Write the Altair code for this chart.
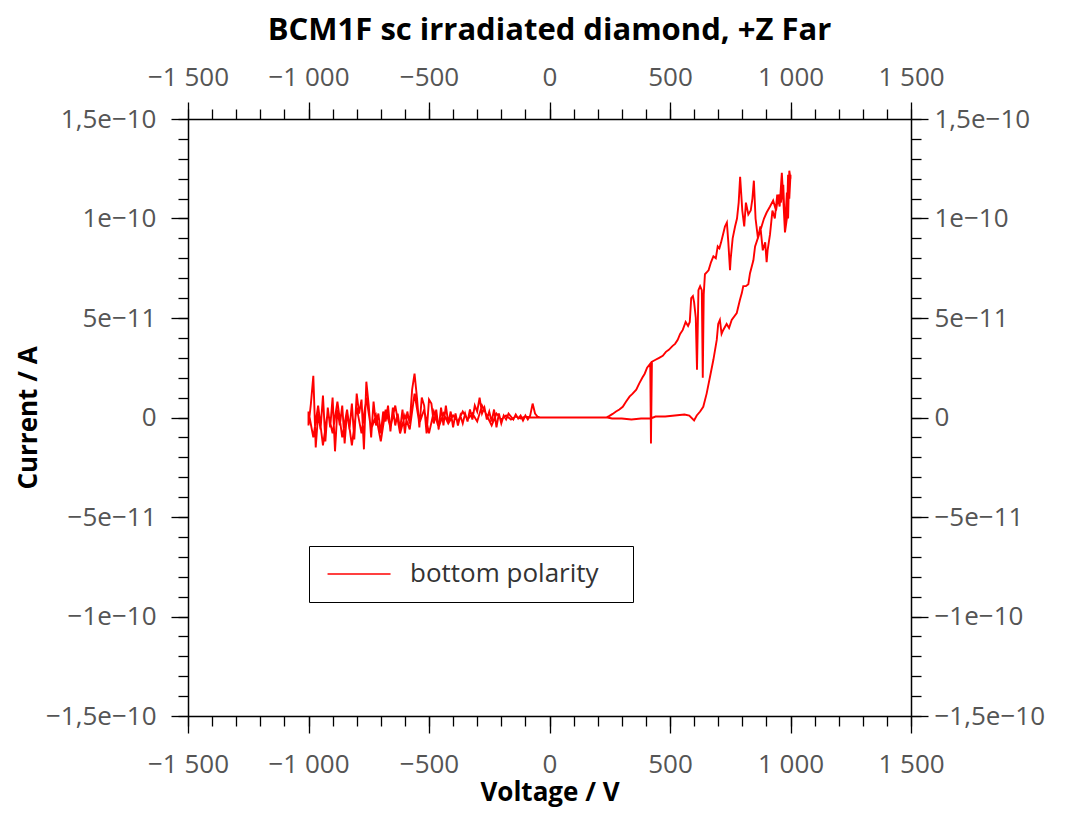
import altair as alt
import pandas as pd

# ---- data (current in pA, voltage in V) ----
# upward sweep, 0 -> +1000 V (lower branch)
up_v = [0, 50, 100, 150, 200, 240, 260, 300, 340, 380, 420, 440, 480, 520, 560, 580, 600,
        611, 625, 638, 652, 666, 680, 694, 700, 707, 714, 721, 735, 745, 756, 777, 790, 798,
        804, 815, 825, 832, 846, 853, 867, 880, 890, 901, 915, 928, 940, 950, 960, 970, 977,
        985, 990, 995, 1000]
up_i = [0, 0, 0, 0, 0, 0, -0.5, -0.5, -1, -0.5, -0.5, 0.5, 0.5, 1, 1.5, 1, -1.5,
        1, 3, 5.4, 12, 20.5, 29, 39, 47, 49, 42, 44, 47, 45, 49, 52.5, 59, 62.5,
        66, 66, 67, 72.5, 79, 86, 91, 96, 100, 103, 106, 109, 104, 112, 108, 117, 95,
        113, 100, 124, 120]

# downward sweep, +1000 V -> 0 (upper branch)
down_v = [1000, 995, 990, 985, 977, 970, 964, 955, 945, 935, 925, 915, 905, 901, 895, 885,
          875, 865, 855, 848, 842, 835, 825, 815, 808, 800, 791, 785, 778, 770, 760, 752,
          749, 742, 736, 728, 720, 712, 705, 698, 690, 680, 670, 660, 653, 645, 640, 636,
          632, 625, 618, 612, 607, 600, 595, 588, 582, 575, 565, 553, 542, 532, 521, 511,
          495, 483, 470, 455, 440, 425, 421, 418, 405, 395, 385, 372, 360, 345, 332, 318,
          304, 290, 276, 262, 249, 235, 200, 150, 100, 50, 0, -40]
down_i = [122, 110, 122, 100, 93, 110, 123, 106, 112, 100, 104, 92, 84, 78, 88, 84,
          96, 90, 100, 119, 110, 104, 102, 108, 96, 104, 121, 108, 100, 96, 90, 80,
          74, 88, 98, 96, 92, 88, 85, 86, 80, 81, 78, 74, 73, 72, 62, 20,
          64, 66, 64, 24, 50, 58, 61, 60, 48, 46, 48, 44, 42, 39, 37, 36,
          34, 33, 31, 30, 29, 28, -13, 27, 25, 22, 20, 17, 14, 12, 10.5, 8,
          5.4, 4, 3, 1.8, 0.8, 0, 0, 0, 0, 0, 0, 0]

# negative sweep, -40 V -> -1000 V
neg_out_v = [-40, -50, -60, -70, -80, -90, -100, -110, -120, -130, -140, -150, -160, -170,
             -180, -190, -200, -210, -220, -230, -240, -250, -260, -270, -280, -290, -300,
             -310, -320, -330, -340, -350, -360, -370, -380, -390, -400, -410, -420, -430,
             -440, -450, -460, -470, -480, -490, -500, -510, -520, -530, -540, -550, -560,
             -570, -580, -590, -600, -610, -620, -630, -640, -650, -660, -670, -680, -690,
             -700, -710, -720, -730, -740, -750, -760, -770, -780, -790, -800, -810, -820,
             -830, -840, -850, -860, -870, -880, -890, -900, -910, -920, -930, -940, -950,
             -960, -970, -980, -990, -1000]
neg_out_i = [0, 0.5, 2, 7, 1, -1, 1, -1.5, 1, -0.5, 1.5, -1, 0.5, 2,
             -1, 1, -3, 2, -5, 4, -2, 3, -1, 5, 2, 10, 3,
             6, -1, 4, -2, 2, -3, 1, -4, 2, -5, 3, -3, 6,
             -4, 5, -6, 4, -3, 7, 9, -8, 6, 10, -5, 10, 22,
             14, -3, 3, -8, 4, -6, 2, -4, 5, -7, 6, -2, 3,
             -8, 2, -4, 8, -10, 6, 18, -16, 9, 2, 12, -11, 7,
             -6, 3, -13, 6, -4, 4, -17, 10, -5, 5, -12, 11, -6,
             2, -15, 21, 7, -4]

# return sweep, -1000 V -> 0
neg_back_v = [-1000, -980, -960, -940, -920, -900, -880, -860, -840, -820, -800, -780, -760,
              -740, -720, -700, -680, -660, -640, -620, -600, -580, -560, -540, -520, -500,
              -480, -460, -440, -420, -400, -380, -360, -340, -320, -300, -280, -260, -240,
              -220, -200, -180, -160, -140, -120, -100, -80, -60, -40, 0]
neg_back_i = [3, -10, 6, -14, 3, -8, 8, -10, 4, -14, 5, -8, 10,
              -6, 1, -12, 4, -5, 6, -8, 1, -6, 12, -3, 4, -8,
              3, -5, 2, -3, 1, -2, 3, -1, 2, -2, 6, 1, -4,
              2, -1, 1, -1, 0.5, -0.5, 0.5, 0, 0, 0, 0]

series_name = "bottom polarity"

x_major = [-1500, -1000, -500, 0, 500, 1000, 1500]
x_minor = [-1500, -1400, -1300, -1200, -1100, -1000, -900, -800, -700, -600, -500, -400,
           -300, -200, -100, 0, 100, 200, 300, 400, 500, 600, 700, 800, 900, 1000, 1100,
           1200, 1300, 1400, 1500]
y_major = [-150, -100, -50, 0, 50, 100, 150]
y_minor = [-150, -140, -130, -120, -110, -100, -90, -80, -70, -60, -50, -40, -30, -20, -10,
           0, 10, 20, 30, 40, 50, 60, 70, 80, 90, 100, 110, 120, 130, 140, 150]

vs = up_v + down_v + neg_out_v + neg_back_v
cs = up_i + down_i + neg_out_i + neg_back_i
df = pd.DataFrame({"v": vs, "i": cs, "idx": list(range(len(vs))), "series": series_name})

FONT = "Open Sans"
LABEL_COLOR = "#555555"
LABEL_SIZE = 26

x_label_expr = "replace(format(datum.value, ','), ',', ' ')"
y_label_expr = ("datum.value==150?'1,5e−10':datum.value==100?'1e−10':datum.value==50?'5e−11':"
                "datum.value==0?'0':datum.value==-50?'−5e−11':datum.value==-100?'−1e−10':'−1,5e−10'")

xscale = alt.Scale(domain=[-1500, 1500], nice=False, zero=False)
yscale = alt.Scale(domain=[-150, 150], nice=False, zero=False)

common_axis = dict(domainColor="black", domainWidth=1.5, tickColor="black", tickWidth=1.3,
                   grid=False, labelFont=FONT, labelFontSize=LABEL_SIZE, labelColor=LABEL_COLOR,
                   labelFlush=False, labelOverlap=False,
                   titleFont=FONT, titleFontSize=26, titleFontWeight="bold", titleColor="black")

base = alt.Chart(df).encode(order="idx:Q")

main = base.mark_line(strokeWidth=1.9, color="#ff0000").encode(
    x=alt.X("v:Q", scale=xscale, axis=alt.Axis(orient="bottom", values=x_major, tickSize=17,
            labelExpr=x_label_expr, labelPadding=18, title="Voltage / V", titlePadding=2,
            **common_axis)),
    y=alt.Y("i:Q", scale=yscale, axis=alt.Axis(orient="left", values=y_major, tickSize=17,
            labelExpr=y_label_expr, labelPadding=15, title="Current / A", titlePadding=4,
            **common_axis)),
    color=alt.Color("series:N", scale=alt.Scale(range=["#ff0000"]), legend=alt.Legend(
        title=None, orient="none", legendX=121, legendY=427,
        symbolType="M-0.9,0H5.1", symbolSize=441, symbolStrokeWidth=1.5,
        symbolStrokeColor="#ff0000", labelOffset=60, labelFont=FONT, labelLimit=500,
        labelFontSize=LABEL_SIZE, labelColor="#333333",
        labelExpr="datum.label + '\u2800'",
        strokeColor="black", fillColor="white", padding=15)),
)

top_right = base.mark_line(opacity=0).encode(
    x=alt.X("v:Q", scale=xscale, axis=alt.Axis(orient="top", values=x_major, tickSize=17,
            labelExpr=x_label_expr, labelPadding=12, title=None, **common_axis)),
    y=alt.Y("i:Q", scale=yscale, axis=alt.Axis(orient="right", values=y_major, tickSize=17,
            labelExpr=y_label_expr, labelPadding=6, title=None, **common_axis)),
)

minor_bl = base.mark_line(opacity=0).encode(
    x=alt.X("v:Q", scale=xscale, axis=alt.Axis(orient="bottom", values=x_minor, tickSize=10,
            labels=False, domain=False, title=None, tickColor="black", tickWidth=1.3, grid=False)),
    y=alt.Y("i:Q", scale=yscale, axis=alt.Axis(orient="left", values=y_minor, tickSize=10,
            labels=False, domain=False, title=None, tickColor="black", tickWidth=1.3, grid=False)),
)

minor_tr = base.mark_line(opacity=0).encode(
    x=alt.X("v:Q", scale=xscale, axis=alt.Axis(orient="top", values=x_minor, tickSize=10,
            labels=False, domain=False, title=None, tickColor="black", tickWidth=1.3, grid=False)),
    y=alt.Y("i:Q", scale=yscale, axis=alt.Axis(orient="right", values=y_minor, tickSize=10,
            labels=False, domain=False, title=None, tickColor="black", tickWidth=1.3, grid=False)),
)

chart = alt.layer(main, top_right, minor_bl, minor_tr).resolve_axis(
    x="independent", y="independent"
).properties(
    width=723, height=597,
    title=alt.TitleParams("BCM1F sc irradiated diamond, +Z Far", font=FONT, fontSize=31,
                          fontWeight="bold", color="black", anchor="middle", offset=17),
    autosize=alt.AutoSizeParams(type="none"),
    padding={"left": 180, "top": 111, "right": 147, "bottom": 92},
).configure_view(stroke=None).configure(background="white")

chart.save("out.html", embed_options={"renderer": "svg", "actions": False})
